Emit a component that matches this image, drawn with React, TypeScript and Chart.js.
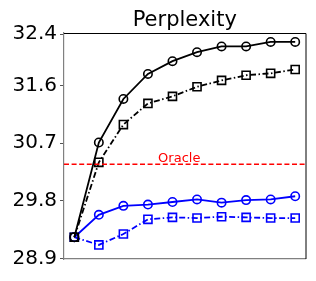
import React, { useEffect, useRef } from "react";
import { Chart, registerables } from "chart.js";

Chart.register(...registerables);

const steps = [1, 2, 3, 4, 5, 6, 7, 8, 9, 10];
const blackCircle = [29.23, 30.71, 31.39, 31.78, 31.98, 32.12, 32.21, 32.21, 32.28, 32.28];
const blackSquare = [29.23, 30.40, 30.99, 31.32, 31.43, 31.58, 31.68, 31.76, 31.79, 31.85];
const blueCircle = [29.23, 29.58, 29.72, 29.74, 29.78, 29.82, 29.77, 29.81, 29.82, 29.87];
const blueSquare = [29.23, 29.11, 29.28, 29.51, 29.54, 29.53, 29.55, 29.54, 29.53, 29.53];
const yTicks = [28.9, 29.8, 30.7, 31.6, 32.4];
const oracleValue = 30.37;
const oracleLabel = "Oracle";
const titleText = "Perplexity";

const FONT = "'DejaVu Sans', sans-serif";

export default function App() {
  const ref = useRef<HTMLCanvasElement | null>(null);

  useEffect(() => {
    if (!ref.current) return;
    const toPts = (vals: number[]) => vals.map((v, i) => ({ x: steps[i], y: v }));

    const framePlugin = {
      id: "frameAndExtras",
      afterDatasetsDraw(chart: any) {
        const { ctx, chartArea } = chart;
        const y = chart.scales.y.getPixelForValue(oracleValue);
        ctx.save();
        ctx.strokeStyle = "#ff0000";
        ctx.lineWidth = 1.5;
        ctx.setLineDash([5, 2.6]);
        ctx.beginPath();
        ctx.moveTo(chartArea.left, y);
        ctx.lineTo(chartArea.right, y);
        ctx.stroke();
        ctx.setLineDash([]);
        ctx.fillStyle = "#ff0000";
        ctx.font = `13px ${FONT}`;
        ctx.textAlign = "center";
        ctx.textBaseline = "alphabetic";
        ctx.fillText(oracleLabel, (chartArea.left + chartArea.right) / 2 - 5.5, y - 2.6);
        ctx.restore();
      },
      afterDraw(chart: any) {
        const { ctx, chartArea } = chart;
        ctx.save();
        ctx.strokeStyle = "#000000";
        ctx.lineWidth = 1;
        ctx.beginPath();
        ctx.moveTo(chartArea.left, chartArea.top + 0.5);
        ctx.lineTo(chartArea.right + 0.5, chartArea.top + 0.5);
        ctx.lineTo(chartArea.right + 0.5, chartArea.bottom);
        ctx.stroke();
        ctx.fillStyle = "#000000";
        ctx.font = `21px ${FONT}`;
        ctx.textAlign = "center";
        ctx.textBaseline = "alphabetic";
        ctx.fillText(titleText, (chartArea.left + chartArea.right) / 2, 26);
        ctx.restore();
      },
    };

    const common = {
      borderWidth: 1.8,
      pointRadius: 4.2,
      pointBorderWidth: 1.6,
      pointBackgroundColor: "rgba(0,0,0,0)",
    };

    const chart = new Chart(ref.current, {
      type: "line",
      data: {
        datasets: [
          {
            ...common,
            data: toPts(blackCircle),
            borderColor: "#000000",
            pointStyle: "circle",
            pointBorderColor: "#000000",
          },
          {
            ...common,
            data: toPts(blackSquare),
            borderColor: "#000000",
            borderDash: [6, 2.5, 1.5, 2.5],
            pointStyle: "rect",
            pointRadius: 5.7,
            pointBorderColor: "#000000",
          },
          {
            ...common,
            data: toPts(blueCircle),
            borderColor: "#0000ff",
            pointStyle: "circle",
            pointBorderColor: "#0000ff",
          },
          {
            ...common,
            data: toPts(blueSquare),
            borderColor: "#0000ff",
            borderDash: [6, 2.5, 1.5, 2.5],
            pointStyle: "rect",
            pointRadius: 5.7,
            pointBorderColor: "#0000ff",
          },
        ],
      },
      options: {
        animation: false,
        responsive: true,
        maintainAspectRatio: false,
        layout: { padding: { left: 0, right: 10.5, top: 33, bottom: 22 } },
        plugins: {
          legend: { display: false },
          tooltip: { enabled: false },
          title: { display: false },
        },
        elements: { line: { tension: 0 } },
        scales: {
          x: {
            type: "linear",
            min: 0.58,
            max: 10.42,
            grid: { display: false },
            ticks: { display: false },
            border: { display: true, color: "#808080", width: 1.2 },
            afterFit(scale: any) {
              scale.height = 0;
            },
          },
          y: {
            type: "linear",
            min: 28.89,
            max: 32.42,
            afterBuildTicks(scale: any) {
              scale.ticks = yTicks.map((v) => ({ value: v }));
            },
            afterFit(scale: any) {
              scale.width = 64;
            },
            grid: {
              drawOnChartArea: false,
              drawTicks: true,
              tickLength: 4,
              color: "#555555",
            },
            border: { display: true, color: "#808080", width: 1.2 },
            ticks: {
              color: "#000000",
              padding: 3,
              font: { family: FONT, size: 20 },
              callback: (v: any) => Number(v).toFixed(1),
            },
          },
        },
      },
      plugins: [framePlugin],
    });
    return () => chart.destroy();
  }, []);

  return (
    <div style={{ position: "fixed", left: 0, top: 0, width: 316, height: 281, background: "#ffffff" }}>
      <canvas ref={ref} />
    </div>
  );
}
